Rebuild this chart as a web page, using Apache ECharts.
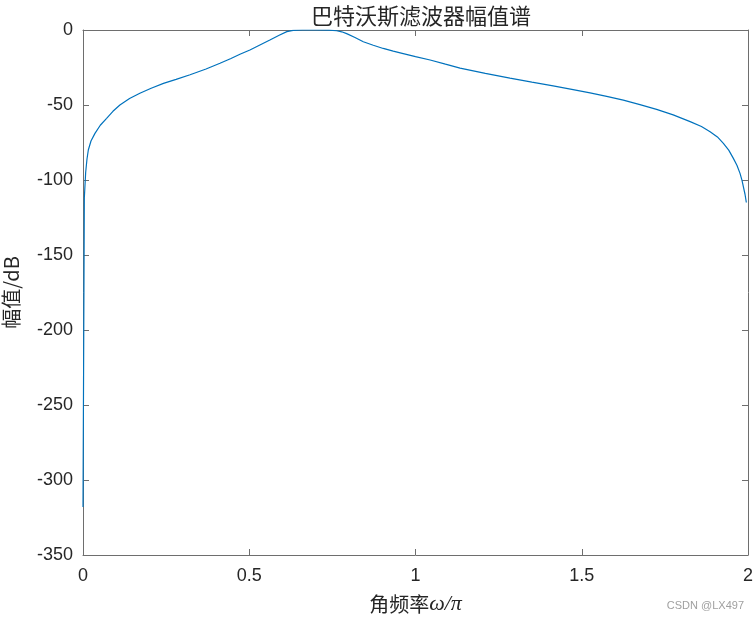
<!DOCTYPE html>
<html>
<head>
<meta charset="utf-8">
<script src="https://cdn.jsdelivr.net/npm/echarts@6/dist/echarts.min.js"></script>
<style>
  html, body { margin: 0; padding: 0; background: #fff; }
  #chart { width: 756px; height: 620px; }
</style>
</head>
<body>
<div id="chart"></div>
<script>
// 角频率 (ω/π) 与幅值 (dB)
const omega = [0, 0.004, 0.008, 0.012, 0.016, 0.024, 0.036, 0.052, 0.071, 0.09, 0.111, 0.14, 0.171, 0.205,
    0.242, 0.28, 0.322, 0.37, 0.412, 0.445, 0.472, 0.502, 0.532, 0.562, 0.590, 0.613, 0.632, 0.66,
    0.70, 0.74, 0.763, 0.778, 0.793, 0.818, 0.843, 0.873, 0.903, 0.933, 0.963, 1.0, 1.044, 1.09,
    1.134, 1.21, 1.284, 1.35, 1.414, 1.47, 1.525, 1.575, 1.625, 1.675, 1.725, 1.775, 1.826, 1.86,
    1.886, 1.908, 1.926, 1.942, 1.956, 1.967, 1.976, 1.982, 1.986, 1.991, 1.995];
const magDb = [-318, -112, -95, -86, -80, -74, -68.9, -63.5, -58.9, -54.2, -50, -45.7, -42.2, -38.8,
    -35.6, -32.9, -29.8, -26, -22.2, -19, -16.2, -13.3, -10, -6.7, -3.5, -1.1, -0.2, 0,
    0, -0.1, -0.5, -1.2, -2.4, -5, -7.8, -10.2, -12.3, -14.1, -15.7, -17.8, -20, -22.8,
    -25.4, -28.9, -32.1, -34.8, -37.3, -39.6, -41.9, -44.2, -46.8, -49.7, -52.9, -56.6, -61.1, -64.3,
    -67.8, -71.3, -75.6, -80.1, -85.6, -90.3, -95.6, -100.2, -104.4, -109.5, -115];
const xTicks = [0, 0.5, 1, 1.5, 2];

const axisColor = '#6e6e6e';
const textColor = '#262626';
const numFont = '"Liberation Sans", Arial, sans-serif';
const cjkFont = '"Noto Sans CJK SC", sans-serif';

const chart = echarts.init(document.getElementById('chart'));

const baseAxis = {
    type: 'value',
    axisLine: { show: true, onZero: false, lineStyle: { color: axisColor, width: 1 } },
    axisTick: { show: true, inside: true, length: 6, lineStyle: { color: axisColor } },
    splitLine: { show: false },
};

const option = {
    backgroundColor: '#fff',
    animation: false,
    title: {
        text: '巴特沃斯滤波器幅值谱',
        left: 416,
        top: 0,
        textAlign: 'center',
        textStyle: { fontFamily: cjkFont, fontSize: 22, fontWeight: 'normal', color: textColor },
    },
    grid: { left: 83, right: 8, top: 30, bottom: 65, containLabel: false, outerBoundsMode: 'none' },
    xAxis: [
        {
            ...baseAxis,
            min: 0,
            max: 2,
            interval: 0.5,
            name: '角频率{i|ω/π}',
            nameLocation: 'middle',
            nameGap: 38,
            nameTextStyle: {
                fontFamily: cjkFont, fontSize: 20, color: textColor,
                rich: { i: { fontFamily: '"Liberation Serif", serif', fontStyle: 'italic', fontSize: 22, color: textColor } },
            },
            axisLabel: {
                fontFamily: numFont, fontSize: 18, color: textColor, margin: 12,
                formatter: v => (xTicks.includes(v) ? String(v) : ''),
            },
        },
        {
            ...baseAxis,
            position: 'top',
            min: 0,
            max: 2,
            interval: 0.5,
            axisLabel: { show: false },
        },
    ],
    yAxis: [
        {
            ...baseAxis,
            min: -350,
            max: 0,
            interval: 50,
            name: '幅值/dB',
            nameLocation: 'middle',
            nameGap: 62,
            nameTextStyle: { fontFamily: cjkFont, fontSize: 20, color: textColor },
            axisLabel: { fontFamily: numFont, fontSize: 18, color: textColor, margin: 10 },
        },
        {
            ...baseAxis,
            position: 'right',
            min: -350,
            max: 0,
            interval: 50,
            axisLabel: { show: false },
        },
    ],
    series: [
        {
            type: 'line',
            data: omega.map((w, i) => [w, magDb[i]]),
            showSymbol: false,
            smooth: false,
            lineStyle: { color: '#0072BD', width: 1.2 },
            xAxisIndex: 0,
            yAxisIndex: 0,
        },
    ],
    graphic: [
        {
            type: 'text',
            right: 12,
            top: 600,
            style: { text: 'CSDN @LX497', fontFamily: numFont, fontSize: 11, fill: '#a0a0a0' },
        },
    ],
};

chart.setOption(option);
</script>
</body>
</html>
